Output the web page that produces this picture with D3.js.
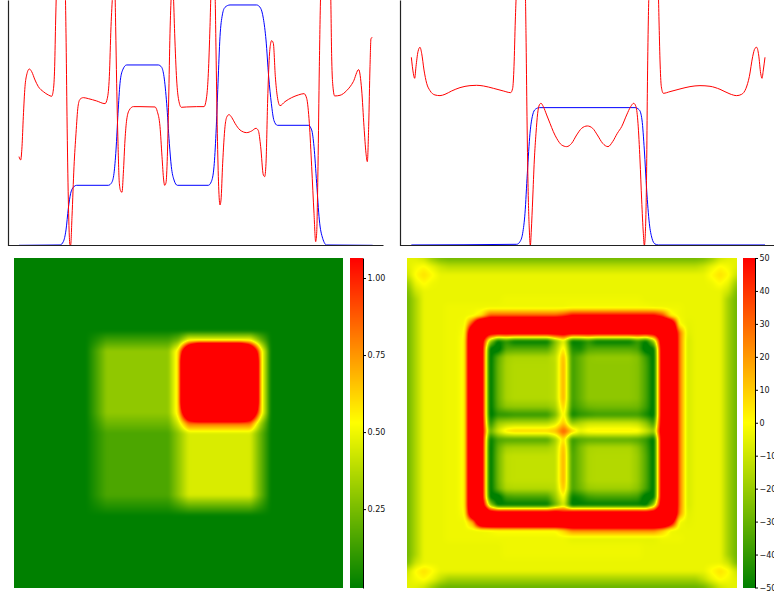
<!DOCTYPE html>
<html>
<head>
<meta charset="utf-8">
<script src="https://cdn.jsdelivr.net/npm/d3@7"></script>
<style>
html, body { margin: 0; padding: 0; background: #fff; overflow: hidden; }
svg { display: block; }
text { font-family: "DejaVu Sans", sans-serif; }
</style>
</head>
<body>
<div id="chart"></div>
<script>
// scan line profiles, position along the line 0..1061, intensity 0..720 (blue steps 180/360/540/720)
var leftBlueX = [0,123,133,141,148,155,163,173,268,278,285,291,297,303,311,323,418,428,435,443,451,457,465,475,568,577,585,591,597,603,610,618,633,713,725,733,741,749,757,765,775,868,878,885,893,901,911,923,1061]
var leftBlueY = [0,1,11,46,111,156,174,180,180,188,216,286,396,486,526,541,541,534,506,426,306,236,196,180,180,191,236,336,486,626,691,714,721,721,711,681,616,506,426,374,360,360,346,296,186,76,21,1,0]
var leftRedX = [0,5,9,13,18,23,31,38,48,58,73,88,98,103,107,110,112,125,139,141,144,148,153,155,159,165,171,177,183,193,208,233,258,265,271,276,281,284,288,290,293,297,301,305,309,313,318,323,331,343,363,408,415,423,429,434,437,441,445,449,453,457,460,463,467,473,479,487,503,533,555,563,568,573,576,582,588,591,595,599,603,606,611,618,623,630,638,648,663,683,698,711,718,725,733,737,741,746,751,755,758,763,769,775,783,798,818,838,855,863,871,878,885,890,893,897,901,905,920,935,938,941,947,963,983,1003,1019,1028,1035,1041,1045,1049,1053,1056,1060]
var leftRedY = [266,256,296,386,476,511,529,521,496,476,461,451,447,466,536,676,756,1000,756,636,386,136,1,1,86,236,336,416,438,443,440,433,425,441,506,656,756,800,756,656,486,306,186,163,159,216,316,376,406,416,416,415,401,356,266,196,180,188,266,436,636,756,800,756,636,496,436,414,415,416,416,446,516,656,756,800,756,586,336,176,121,136,246,356,384,392,384,366,346,338,343,351,344,296,211,206,246,436,566,606,614,606,506,446,419,431,443,451,455,441,366,236,96,11,36,236,536,756,1000,756,566,486,448,450,464,491,527,466,356,276,251,356,536,621,623]
var rightBlueX = [0,316,326,334,341,348,356,364,372,384,671,684,692,699,706,714,722,731,741,1061]
var rightBlueY = [1,3,11,36,96,216,336,391,408,413,413,406,376,286,166,66,21,4,1,1]
var rightRedX = [0,6,10,14,20,26,31,38,46,56,71,86,101,121,146,176,196,216,246,276,298,304,308,312,315,328,342,344,347,350,354,357,360,364,369,374,379,384,389,396,406,416,426,436,451,466,481,496,511,528,544,558,574,590,604,618,631,646,658,667,674,680,686,691,696,699,702,706,708,711,713,726,741,743,746,750,756,776,806,836,866,896,926,956,976,991,1004,1014,1024,1031,1036,1042,1048,1052,1056,1061]
var rightRedY = [564,516,501,536,581,594,576,526,486,464,451,449,453,463,473,479,480,478,471,463,458,471,536,676,756,880,756,636,386,186,46,-1,46,136,256,336,396,421,426,416,391,366,341,321,301,296,306,331,351,358,351,331,306,296,311,336,356,391,416,426,416,366,256,136,36,-1,36,236,456,676,756,880,756,676,556,476,456,461,469,476,479,477,468,454,449,453,471,506,566,591,594,571,516,501,526,564]

// left heatmap, rows of the grid (33 x 33)
var rowClear = [0,0,0,0,0,0,0,0,0,0,0,0,0,0,0,0,0,0,0,0,0,0,0,0,0,0,0,0,0,0,0,0,0]
var rowUpperEdge = [0,0,0,0,0,0,0,0,.07,.15,.15,.15,.15,.15,.15,.15,.25,.55,.55,.55,.55,.55,.55,.55,.25,0,0,0,0,0,0,0,0]
var rowUpperFirst = [0,0,0,0,0,0,0,0,.15,.3,.3,.3,.3,.3,.3,.3,.6,1.8,3,3,3,3,3,1.8,.65,0,0,0,0,0,0,0,0]
var rowUpper = [0,0,0,0,0,0,0,0,.15,.3,.3,.3,.3,.3,.3,.3,.6,3,3,3,3,3,3,3,.65,0,0,0,0,0,0,0,0]
var rowMiddle = [0,0,0,0,0,0,0,0,.11,.23,.23,.23,.23,.23,.23,.23,.45,.85,.85,.85,.85,.85,.85,.85,.35,0,0,0,0,0,0,0,0]
var rowLower = [0,0,0,0,0,0,0,0,.08,.157,.157,.157,.157,.157,.157,.157,.3,.45,.45,.45,.45,.45,.45,.45,.22,0,0,0,0,0,0,0,0]
var rowLowerEdge = [0,0,0,0,0,0,0,0,.04,.08,.08,.08,.08,.08,.08,.08,.15,.22,.22,.22,.22,.22,.22,.22,.11,0,0,0,0,0,0,0,0]
var blockGrid = [rowClear,rowClear,rowClear,rowClear,rowClear,rowClear,rowClear,rowClear,rowUpperEdge,rowUpperFirst,rowUpper,rowUpper,rowUpper,rowUpper,rowUpper,rowUpperFirst,rowMiddle,rowLower,rowLower,rowLower,rowLower,rowLower,rowLower,rowLower,rowLowerEdge,rowClear,rowClear,rowClear,rowClear,rowClear,rowClear,rowClear,rowClear]

// right heatmap, rows of the grid (41 x 41)
var edge0 = [-5,-6,-10,-20,-26,-28,-28,-28,-28,-28,-28,-28,-28,-28,-28,-28,-28,-28,-28,-28,-28,-28,-28,-28,-28,-28,-28,-28,-28,-28,-28,-28,-28,-28,-28,-28,-26,-20,-10,-6,-5]
var edge1 = [-6,-2,1,-4,-10,-13,-13,-13,-13,-13,-13,-13,-13,-13,-13,-13,-13,-13,-13,-13,-13,-13,-13,-13,-13,-13,-13,-13,-13,-13,-13,-13,-13,-13,-13,-13,-10,-4,1,-2,-6]
var edge2 = [-10,1,6,1,-4,-4,-4,-4,-4,-4,-4,-4,-4,-4,-4,-4,-4,-4,-4,-4,-4,-4,-4,-4,-4,-4,-4,-4,-4,-4,-4,-4,-4,-4,-4,-4,-4,1,6,1,-10]
var edge3 = [-20,-4,1,-3,-4,-4,-4,-4,-4,-4,-4,-4,-4,-4,-4,-4,-4,-4,-4,-4,-4,-4,-4,-4,-4,-4,-4,-4,-4,-4,-4,-4,-4,-4,-4,-4,-4,-3,1,-4,-20]
var edge4 = [-26,-10,-4,-4,-4,-4,-4,-4,-4,-4,-4,-4,-4,-4,-4,-4,-4,-4,-4,-4,-4,-4,-4,-4,-4,-4,-4,-4,-4,-4,-4,-4,-4,-4,-4,-4,-4,-4,-4,-10,-26]
var open5 = [-28,-16,-4,-4,-4,-4,-4,-4,-4,-4,-4,-4,-3,-3,-3,-3,-3,-3,-3,-3,-3,-3,-3,-3,-3,-3,-3,-3,-3,-4,-4,-4,-4,-4,-4,-4,-4,-4,-4,-18,-28]
var open6 = [-28,-16,-4,-4,-4,-3,-3,-3,-3,-3,-3,-3,-3,-3,-3,-3,-3,-3,-3,-3,-2,-2,-2,-2,-2,-2,-2,-2,-2,-2,-3,-3,-3,-3,-4,-4,-4,-4,-4,-18,-28]
var ringTop7 = [-28,-16,-4,-4,-4,-3,-3,-3,-2,6,35,35,35,35,35,35,35,35,35,42,55,55,55,55,55,55,55,55,55,55,55,40,3,-3,-4,-4,-4,-4,-4,-18,-28]
var ringTop8 = [-28,-16,-4,-4,-4,-3,-3,-2,50,150,150,150,150,150,150,150,150,150,150,150,150,150,150,150,150,150,150,150,150,150,150,150,110,0,-5,-4,-4,-4,-4,-18,-28]
var ringTop9 = [-28,-16,-4,-4,-4,-3,-3,0,130,90,70,70,70,70,70,70,70,70,70,70,70,70,70,70,70,70,70,70,70,70,70,90,130,30,-6,-4,-4,-4,-4,-18,-28]
var pocket10 = [-28,-16,-4,-4,-4,-3,-3,2,150,70,-15,-52,-42,-52,-52,-52,-52,-52,-25,-5,-52,-50,-42,-52,-52,-52,-52,-52,-40,-52,-15,80,150,30,-8,-4,-4,-4,-4,-18,-28]
var pocket11 = [-28,-16,-4,-4,-4,-3,-3,2,150,70,-52,-58,-34,-33,-33,-33,-33,-33,-18,6,-44,-46,-34,-33,-33,-33,-33,-33,-36,-58,-52,80,150,30,-8,-4,-4,-4,-4,-18,-28]
var pocket12 = [-28,-16,-4,-4,-4,-3,-3,2,150,70,-55,-32,-18,-16,-16,-16,-16,-16,-12,16,-38,-30,-22,-21,-21,-21,-21,-21,-24,-38,-55,80,150,30,-8,-4,-4,-4,-4,-18,-28]
var pocket13 = [-28,-16,-4,-4,-4,-3,-3,2,150,70,-55,-30,-17,-15,-15,-15,-15,-15,-13,18,-38,-30,-22,-22,-22,-22,-22,-22,-24,-36,-55,80,150,30,-8,-4,-4,-4,-4,-18,-28]
var pocket18 = [-28,-16,-4,-4,-4,-3,-3,2,150,70,-55,-32,-22,-21,-21,-21,-21,-21,-17,12,-40,-34,-28,-27,-27,-27,-27,-27,-28,-38,-55,80,150,30,-8,-4,-4,-4,-4,-18,-28]
var pocket19 = [-28,-16,-4,-4,-4,-3,-3,2,150,70,-55,-42,-42,-40,-40,-40,-40,-40,-26,5,-48,-42,-40,-38,-38,-38,-38,-38,-38,-46,-55,80,150,30,-8,-4,-4,-4,-4,-18,-28]
var pocket20 = [-28,-16,-4,-4,-4,-3,-3,2,150,70,-45,-20,-16,-15,-15,-15,-15,-15,-8,12,-22,-15,-10,-10,-10,-10,-10,-10,-12,-22,-40,80,150,30,-8,-4,-4,-4,-4,-18,-28]
var crossRow = [-28,-16,-4,-4,-4,-3,-3,2,150,70,-30,-8,6,10,10,10,10,10,14,34,12,-2,3,4,4,4,4,4,3,-8,-20,80,150,30,-8,-4,-4,-4,-4,-18,-28]
var pocket22 = [-28,-16,-4,-4,-4,-3,-3,2,150,70,-52,-36,-34,-34,-34,-34,-34,-34,-18,8,-40,-34,-32,-32,-32,-32,-32,-32,-34,-40,-55,80,150,30,-8,-4,-4,-4,-4,-18,-28]
var pocket23 = [-28,-16,-4,-4,-4,-3,-3,2,150,70,-55,-30,-18,-17,-17,-17,-17,-17,-13,16,-38,-26,-17,-16,-16,-16,-16,-16,-22,-36,-55,80,150,30,-8,-4,-4,-4,-4,-18,-28]
var pocket24 = [-28,-16,-4,-4,-4,-3,-3,2,150,70,-55,-28,-13,-12,-12,-12,-12,-12,-12,18,-36,-26,-16,-15,-15,-15,-15,-15,-20,-34,-55,80,150,30,-8,-4,-4,-4,-4,-18,-28]
var pocket28 = [-28,-16,-4,-4,-4,-3,-3,2,150,70,-55,-30,-16,-15,-15,-15,-15,-15,-14,14,-36,-28,-20,-19,-19,-19,-19,-19,-23,-36,-55,80,150,30,-8,-4,-4,-4,-4,-18,-28]
var pocket29 = [-28,-16,-4,-4,-4,-3,-3,2,150,70,-52,-58,-38,-36,-36,-36,-36,-36,-20,2,-50,-46,-38,-36,-36,-36,-36,-36,-38,-58,-52,80,150,30,-8,-4,-4,-4,-4,-18,-28]
var pocket30 = [-28,-16,-4,-4,-4,-3,-3,2,150,80,-15,-52,-52,-52,-52,-52,-52,-52,-30,-8,-54,-52,-52,-52,-52,-52,-52,-52,-52,-54,-15,80,150,30,-8,-4,-4,-4,-4,-18,-28]
var ringLow31 = [-28,-16,-4,-4,-4,-3,-3,0,120,130,80,80,80,80,80,80,80,80,80,60,80,80,80,80,80,80,80,80,80,80,80,130,150,25,-6,-4,-4,-4,-4,-18,-28]
var ringLow32 = [-28,-16,-4,-4,-4,-3,-3,-3,20,130,150,150,150,150,150,150,150,150,150,150,150,150,150,150,150,150,150,150,150,150,150,150,80,-2,-5,-4,-4,-4,-4,-18,-28]
var ringLow33 = [-28,-16,-4,-4,-4,-3,-3,-3,-3,-3,-2,0,0,0,0,0,0,0,0,10,25,25,25,25,25,25,25,25,25,25,25,12,-3,-4,-4,-4,-4,-4,-4,-18,-28]
var open34 = [-28,-16,-4,-4,-4,-3,-3,-3,-3,-3,-3,-3,-3,-3,-3,-3,-3,-3,-3,-3,-5,-5,-5,-5,-5,-5,-5,-5,-5,-5,-5,-3,-3,-3,-4,-4,-4,-4,-4,-18,-28]
var edge39 = [-6,-2,1,-4,-12,-18,-18,-18,-18,-18,-18,-18,-18,-18,-18,-18,-18,-18,-18,-18,-18,-18,-18,-18,-18,-18,-18,-18,-18,-18,-18,-18,-18,-18,-18,-18,-12,-4,1,-2,-6]
var edge40 = [-5,-6,-10,-20,-28,-30,-30,-30,-30,-30,-30,-30,-30,-30,-30,-30,-30,-30,-30,-30,-30,-30,-30,-30,-30,-30,-30,-30,-30,-30,-30,-30,-30,-30,-30,-30,-28,-20,-10,-6,-5]
var ringGrid = [edge0,edge1,edge2,edge3,edge4,open5,open6,ringTop7,ringTop8,ringTop9,pocket10,pocket11,pocket12,pocket13,pocket13,pocket13,pocket13,pocket13,pocket18,pocket19,pocket20,crossRow,pocket22,pocket23,pocket24,pocket24,pocket24,pocket24,pocket28,pocket29,pocket30,ringLow31,ringLow32,ringLow33,open34,open5,open5,edge4,edge2,edge39,edge40]

var leftTicks = [0.25, 0.5, 0.75, 1]
var rightTicks = [-50, -40, -30, -20, -10, 0, 10, 20, 30, 40, 50]

var width = 774, height = 597

var svg = d3.select("#chart").append("svg")
    .attr("width", width)
    .attr("height", height)

function drawProfile(left, right, start, end, blueX, blueY, redX, redY) {
    // the axis runs a bit wider than the profile
    var k = (end - start) / 1061
    var x = d3.scaleLinear().domain([(left - start) / k, (right - start) / k]).range([left, right])
    var y = d3.scaleLinear().domain([0, 720]).range([245.3, 5.3])

    var line = d3.line()
        .x(function (d) { return x(d[0]) })
        .y(function (d) { return y(d[1]) })
        .curve(d3.curveMonotoneX)

    svg.append("path")
        .datum(d3.zip(blueX, blueY))
        .attr("d", line)
        .attr("fill", "none")
        .attr("stroke", "#0000ff")
        .attr("stroke-width", 1)

    svg.append("path")
        .datum(d3.zip(redX, redY))
        .attr("d", line)
        .attr("fill", "none")
        .attr("stroke", "#ff0000")
        .attr("stroke-width", 1)

    // d3 axes add their own half pixel
    var xAxis = svg.append("g")
        .attr("transform", "translate(0,245)")
        .call(d3.axisBottom(x).tickValues([]).tickSizeOuter(0))
    var yAxis = svg.append("g")
        .attr("transform", "translate(" + left + ",0)")
        .call(d3.axisLeft(d3.scaleLinear().domain([0, 1]).range([245.5, 0])).tickValues([]).tickSizeOuter(0))
    xAxis.select("path").attr("stroke", "#222").attr("stroke-width", 1.2)
    yAxis.select("path").attr("stroke", "#222").attr("stroke-width", 1.2)
}

drawProfile(8, 383, 19, 372.67, leftBlueX, leftBlueY, leftRedX, leftRedY)
drawProfile(400, 774, 411.33, 765, rightBlueX, rightBlueY, rightRedX, rightRedY)

// resample the grid in value space and colour it, like an interpolated imshow
function drawHeat(grid, x0, y0, w, h, color, hi, smooth) {
    var n = grid.length
    var gx = d3.scaleLinear().domain([0, w - 1]).range([0, n - 1])
    var gy = d3.scaleLinear().domain([0, h - 1]).range([0, n - 1])
    var values = new Float32Array(w * h)
    for (var j = 0; j < h; j++) {
        var fy = gy(j), r0 = Math.min(Math.floor(fy), n - 2), ty = fy - r0
        for (var i = 0; i < w; i++) {
            var fx = gx(i), c0 = Math.min(Math.floor(fx), n - 2), tx = fx - c0
            var top = grid[r0][c0] * (1 - tx) + grid[r0][c0 + 1] * tx
            var low = grid[r0 + 1][c0] * (1 - tx) + grid[r0 + 1][c0 + 1] * tx
            // cap the plateau so the blur does not push the contour out
            values[j * w + i] = Math.min(hi, top * (1 - ty) + low * ty)
        }
    }
    d3.blur2({ data: values, width: w, height: h }, smooth)

    var canvas = document.createElement("canvas")
    canvas.width = w
    canvas.height = h
    var ctx = canvas.getContext("2d")
    var img = ctx.createImageData(w, h)
    for (var p = 0; p < values.length; p++) {
        var c = d3.rgb(color(values[p]))
        img.data[p * 4] = c.r
        img.data[p * 4 + 1] = c.g
        img.data[p * 4 + 2] = c.b
        img.data[p * 4 + 3] = 255
    }
    ctx.putImageData(img, 0, 0)

    svg.append("image")
        .attr("x", x0)
        .attr("y", y0)
        .attr("width", w)
        .attr("height", h)
        .attr("href", canvas.toDataURL())
}

function drawBar(x0, w, top, bottom, scale, color, ticks, fmt) {
    svg.append("g").selectAll("rect")
        .data(d3.range(top, bottom))
        .enter()
        .append("rect")
        .attr("x", x0)
        .attr("y", function (d) { return d })
        .attr("width", w)
        .attr("height", 1)
        .attr("shape-rendering", "crispEdges")
        .attr("fill", function (d) { return color(scale.invert(d + 0.5)) })

    var axis = svg.append("g")
        .attr("transform", "translate(" + (x0 + w) + ",0)")
        .call(d3.axisRight(scale).tickValues(ticks).tickFormat(d3.format(fmt)).tickSize(3).tickPadding(1.5).tickSizeOuter(0))
    axis.select("path").attr("stroke", "#000")
    axis.selectAll("line").attr("stroke", "#000")
    axis.selectAll("text").attr("font-family", "DejaVu Sans").attr("font-size", 8).attr("fill", "#111")
}

var leftColor = d3.scaleLinear().domain([0, 0.53, 1.065]).range(["#008000", "#ffff00", "#ff0000"]).clamp(true)
var rightColor = d3.scaleLinear().domain([-50, 0, 50]).range(["#008000", "#ffff00", "#ff0000"]).clamp(true)

drawHeat(blockGrid, 14, 258, 329, 330, leftColor, 1.25, 1)
drawHeat(ringGrid, 407, 258, 330, 330, rightColor, 62, 1)

drawBar(350, 13, 258, 588, d3.scaleLinear().domain([-0.006, 1.065]).range([588, 258]), leftColor, leftTicks, ".2f")
drawBar(743, 12, 258, 588, d3.scaleLinear().domain([-50, 50]).range([587.5, 258]), rightColor, rightTicks, "d")
</script>
</body>
</html>
